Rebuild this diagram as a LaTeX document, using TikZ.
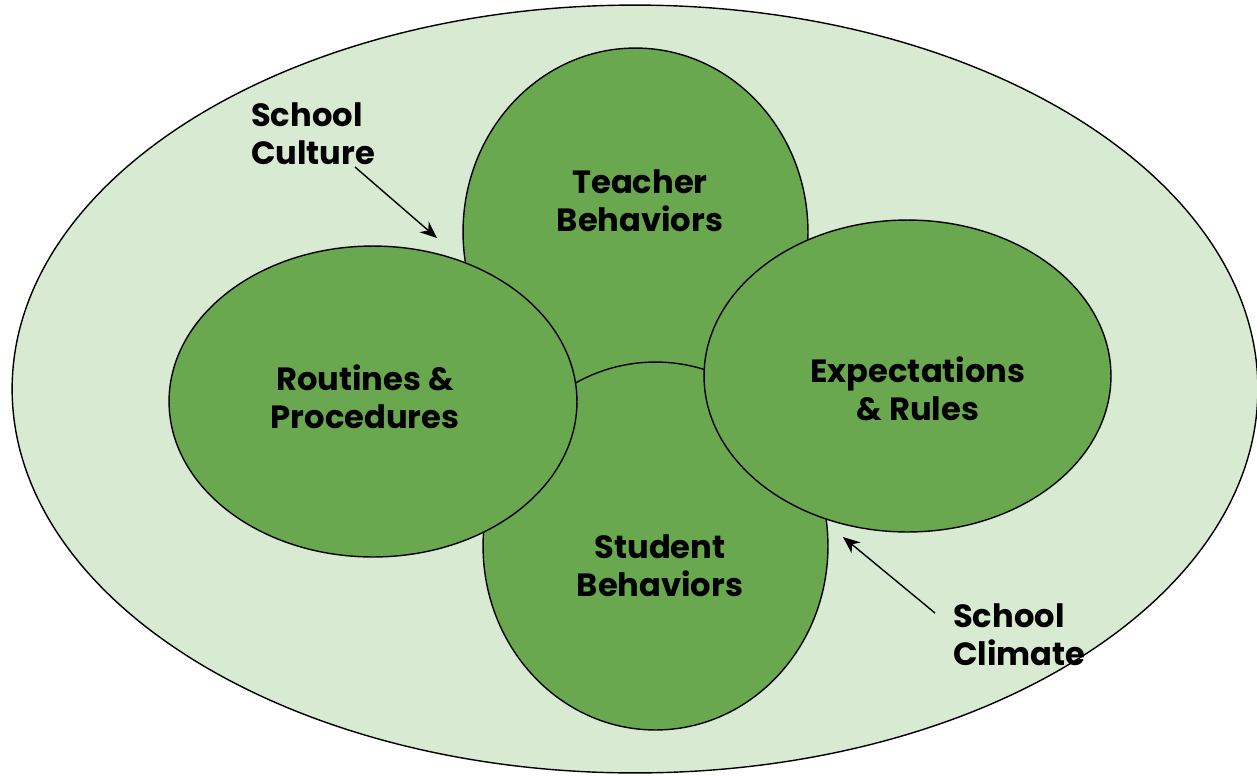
\documentclass[tikz,border=0pt]{standalone}
\usepackage{fontspec}
\setmainfont{Poppins}[BoldFont={* Bold}]
\usepackage{xcolor}
\usetikzlibrary{arrows.meta,shapes.geometric}
\definecolor{climatebg}{HTML}{D9EAD3}
\definecolor{leafgreen}{HTML}{6AA84F}
\tikzset{
  bubble/.style={draw, ellipse, line width=0.8pt, fill=leafgreen, inner sep=0pt},
  bubbletext/.style={align=center, font=\bfseries\fontsize{18.3}{21.6}\selectfont},
  sidetext/.style={align=left, anchor=west, font=\bfseries\fontsize{18.3}{21.6}\selectfont},
  pointer/.style={-{Stealth[length=3.4mm,width=2.8mm]}, line width=0.8pt}
}

\begin{document}
\begin{tikzpicture}[x=0.02cm, y=-0.02cm]
  \useasboundingbox (0,0) rectangle (1257,775);
  % outer climate ellipse
  \node[bubble, fill=climatebg, minimum width=24.92cm, minimum height=15.36cm] (climate) at (635,389) {};
  % the four overlapping bubbles
  \node[bubble, minimum width=6.9cm, minimum height=7.36cm] (teacher) at (635.5,232) {};
  \node[bubble, minimum width=6.9cm, minimum height=7.36cm] (student) at (655.5,546) {};
  \node[bubble, minimum width=8.16cm, minimum height=6.22cm] (routines) at (373,401.5) {};
  \node[bubble, minimum width=8.14cm, minimum height=6.24cm] (expect) at (907.5,376) {};
  % labels
  \node[bubbletext] (teachertxt) at (640,201) {Teacher\\Behaviors};
  \node[bubbletext] (studenttxt) at (660,566) {Student\\Behaviors};
  \node[bubbletext] (routinestxt) at (365,397) {Routines \&\\Procedures};
  \node[bubbletext] (expecttxt) at (918,389) {Expectations\\\& Rules};
  \node[sidetext] (culture) at (245,134) {School\\Culture};
  \node[sidetext] (climatetxt) at (947,635) {School\\Climate};
  % pointers
  \coordinate (culturefrom) at (355,167);
  \coordinate (cultureto) at (437,238);
  \coordinate (climatefrom) at (935,613);
  \coordinate (climateto) at (843,537);
  \draw[pointer] (culturefrom) -- (cultureto);
  \draw[pointer] (climatefrom) -- (climateto);
\end{tikzpicture}
\end{document}
